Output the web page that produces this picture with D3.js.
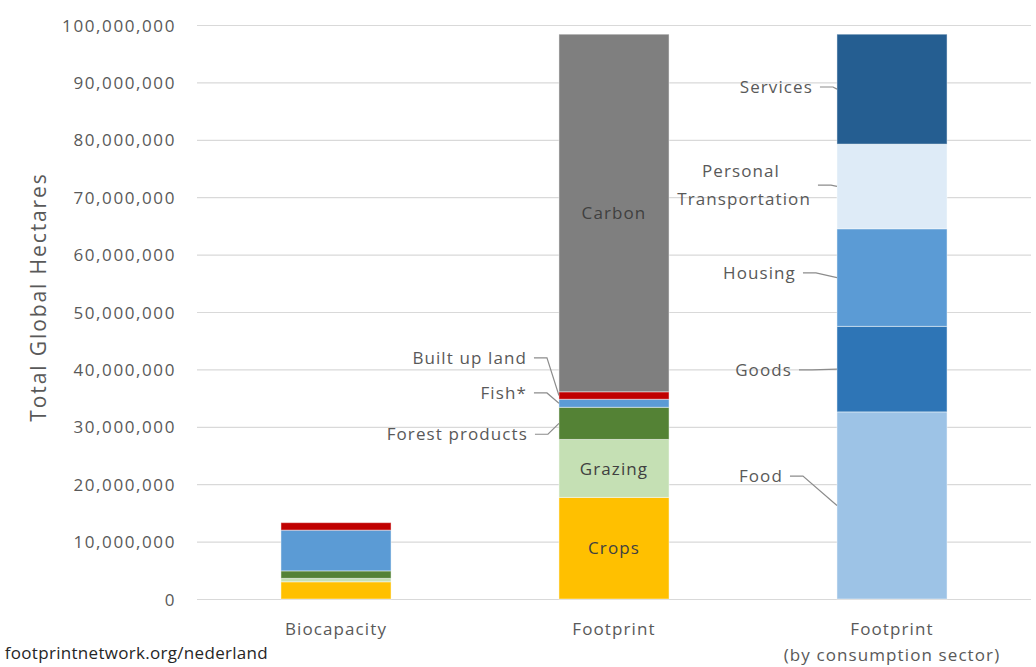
<!DOCTYPE html>
<html>
<head>
<meta charset="utf-8">
<script src="https://cdn.jsdelivr.net/npm/d3@7"></script>
<style>
  html, body { margin: 0; padding: 0; background: #fff; }
  svg { display: block; }
  text { font-family: "Open Sans", "Noto Sans", sans-serif; }
</style>
</head>
<body>
<svg id="chart" width="1036" height="667"></svg>
<script>
// ---------- DATA ----------
const categories = ["Biocapacity", "Footprint", "Footprint (by consumption sector)"];
const categoryLines = [["Biocapacity"], ["Footprint"], ["Footprint", "(by consumption sector)"]];

const seriesNames = ["Crops", "Grazing", "Forest products", "Fish*", "Built up land", "Carbon",
                     "Food", "Goods", "Housing", "Personal Transportation", "Services"];
// values (global hectares) per category: [Biocapacity, Footprint, Footprint by sector]
const crops        = [3.0e6, 17.7e6, 0];
const grazing      = [0.6e6, 10.1e6, 0];
const forest       = [1.3e6,  5.6e6, 0];
const fish         = [7.1e6,  1.4e6, 0];
const builtUp      = [1.3e6,  1.3e6, 0];
const carbon       = [0,     62.3e6, 0];
const food         = [0, 0, 32.6e6];
const goods        = [0, 0, 14.9e6];
const housing      = [0, 0, 17.0e6];
const transport    = [0, 0, 14.75e6];
const services     = [0, 0, 19.15e6];
const seriesValues = [crops, grazing, forest, fish, builtUp, carbon, food, goods, housing, transport, services];

const yTicks = [0, 10e6, 20e6, 30e6, 40e6, 50e6, 60e6, 70e6, 80e6, 90e6, 100e6];

// ---------- STYLE ----------
const colors = {
  "Crops": "#FFC000", "Grazing": "#C5E0B4", "Forest products": "#548235", "Fish*": "#5B9BD5",
  "Built up land": "#C00000", "Carbon": "#7F7F7F",
  "Food": "#9DC3E6", "Goods": "#2E75B6", "Housing": "#5B9BD5",
  "Personal Transportation": "#DEEBF7", "Services": "#255E91"
};
// inside labels
const insideLabels = [
  { series: "Carbon", cat: 1 }, { series: "Grazing", cat: 1 }, { series: "Crops", cat: 1 }
];
// callout labels: gap = distance from bar left edge to text end, ly = label vertical position (data units)
const callouts = [
  { series: "Built up land", cat: 1, gap: 32, ly: 42.0e6, lines: ["Built up land"] },
  { series: "Fish*", cat: 1, gap: 32, ly: 35.9e6, lines: ["Fish*"] },
  { series: "Forest products", cat: 1, gap: 31, ly: 28.7e6, lines: ["Forest products"] },
  { series: "Services", cat: 2, gap: 24, ly: 89.2e6, lines: ["Services"] },
  { series: "Personal Transportation", cat: 2, gap: 26, ly: 72.1e6, lines: ["Personal", "Transportation"] },
  { series: "Housing", cat: 2, gap: 41, ly: 56.8e6, lines: ["Housing"] },
  { series: "Goods", cat: 2, gap: 45, ly: 39.9e6, lines: ["Goods"] },
  { series: "Food", cat: 2, gap: 54, ly: 21.4e6, lines: ["Food"] }
];

// ---------- CHART ----------
const svg = d3.select("#chart");
const x = d3.scaleBand().domain(categories).range([197, 1031]).paddingInner(0.604).paddingOuter(0.302);
const y = d3.scaleLinear().domain([0, 100e6]).range([599, 25]);

const table = categories.map((c, i) => {
  const row = { category: c };
  seriesNames.forEach((s, j) => row[s] = seriesValues[j][i]);
  return row;
});
const stacked = d3.stack().keys(seriesNames)(table);

const textColor = "#595959";

// gridlines
svg.append("g").selectAll("line").data(yTicks).join("line")
  .attr("x1", 197).attr("x2", 1031)
  .attr("y1", d => y(d) + 0.5).attr("y2", d => y(d) + 0.5)
  .attr("stroke", "#d9d9d9").attr("stroke-width", 1.2);

// y axis labels
const yAxis = d3.axisLeft(y).tickValues(yTicks).tickSize(0).tickPadding(0).tickFormat(d3.format(","));
const gy = svg.append("g").attr("transform", "translate(176,0)").call(yAxis);
gy.select(".domain").remove();
gy.selectAll("text").attr("fill", textColor).style("font-size", "17px")
  .style("letter-spacing", "1.6px").attr("dy", "0.36em")
  .style("font-family", '"Open Sans", sans-serif');

// y title
svg.append("text")
  .attr("transform", "translate(46,297) rotate(-90)")
  .attr("text-anchor", "middle").attr("fill", textColor)
  .style("font-size", "21px").style("letter-spacing", "1.9px")
  .text("Total Global Hectares");

// bars
const layers = svg.append("g").selectAll("g").data(stacked).join("g")
  .attr("fill", d => colors[d.key]);
layers.selectAll("rect").data(d => d.filter(p => p[1] - p[0] > 0)).join("rect")
  .attr("x", p => x(p.data.category))
  .attr("width", x.bandwidth())
  .attr("y", p => y(p[1]))
  .attr("height", p => y(p[0]) - y(p[1]))
  .attr("stroke", "#ffffff").attr("stroke-opacity", 0.45).attr("stroke-width", 1);

// category labels
categoryLines.forEach((lines, i) => {
  const t = svg.append("text").attr("text-anchor", "middle").attr("fill", textColor)
    .style("font-size", "17px").style("letter-spacing", "1.1px");
  lines.forEach((ln, k) => {
    t.append("tspan").attr("x", x(categories[i]) + x.bandwidth() / 2)
      .attr("y", 635 + k * 26).text(ln);
  });
});

function segment(series, cat) {
  const layer = stacked.find(l => l.key === series);
  return layer[cat];
}

// inside labels
insideLabels.forEach(l => {
  const seg = segment(l.series, l.cat);
  svg.append("text").attr("text-anchor", "middle").attr("fill", "#404040")
    .attr("x", x(categories[l.cat]) + x.bandwidth() / 2)
    .attr("y", (y(seg[0]) + y(seg[1])) / 2).attr("dy", "0.36em")
    .style("font-size", "17px").style("letter-spacing", "1.1px")
    .text(l.series);
});

// callouts
callouts.forEach(c => {
  const seg = segment(c.series, c.cat);
  const bx = x(categories[c.cat]);
  const ty = y(c.ly);
  const targetY = (y(seg[0]) + y(seg[1])) / 2;
  const textEnd = bx - c.gap;
  const t = svg.append("text").attr("text-anchor", "end").attr("fill", textColor)
    .style("font-size", "17px").style("letter-spacing", "1.1px");
  const n = c.lines.length;
  if (n === 1) {
    t.append("tspan").attr("x", textEnd).attr("y", ty).attr("dy", "0.36em").text(c.lines[0]);
  } else {
    c.lines.forEach((ln, k) => {
      t.append("tspan").attr("x", k === 0 ? textEnd - 70 : textEnd).attr("y", ty + (k - (n - 1) / 2) * 28)
        .attr("dy", "0.36em").attr("text-anchor", k === 0 ? "middle" : "end").text(ln);
    });
  }
  const x0 = textEnd + 7;
  const x1 = Math.min(x0 + 13, bx - 4);
  svg.append("path")
    .attr("d", d3.line()([[x0, ty], [x1, ty], [bx, targetY]]))
    .attr("fill", "none").attr("stroke", "#8c8c8c").attr("stroke-width", 1.2);
});

// source
svg.append("text").attr("x", 268).attr("y", 659).attr("text-anchor", "end")
  .attr("fill", "#262626").style("font-size", "17px").style("letter-spacing", "0.3px")
  .text("footprintnetwork.org/nederland");
</script>
</body>
</html>
